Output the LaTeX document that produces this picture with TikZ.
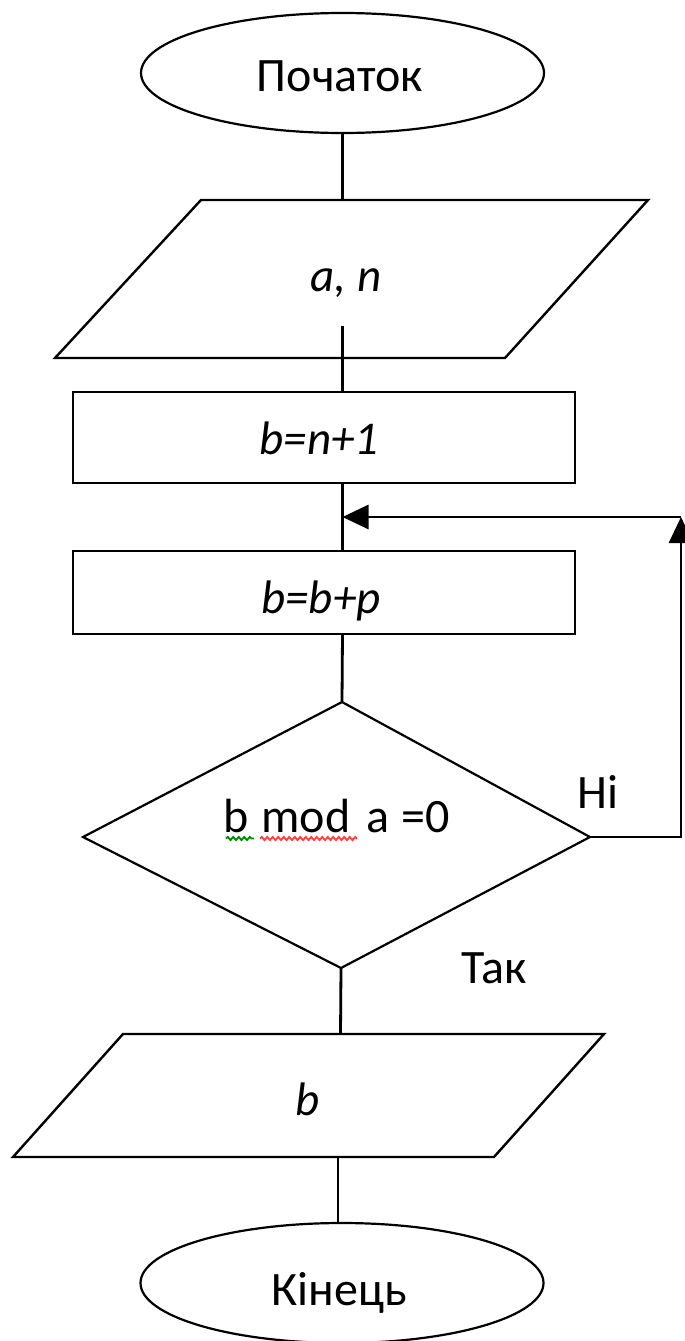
\documentclass[tikz,border=0pt]{standalone}
\usepackage{fontspec}
\setmainfont{Carlito}
\usetikzlibrary{shapes.geometric,arrows.meta,decorations.pathmorphing}
\begin{document}
\begin{tikzpicture}[x=1pt,y=-1pt,
  txt/.style={font=\fontsize{48}{54}\selectfont, inner sep=0pt, anchor=base},
  itxt/.style={txt, font=\fontsize{47}{53}\selectfont\itshape},
  outline/.style={draw=black, line width=2.4pt, line join=miter},
  box/.style={draw=black, line width=2.8pt, inner sep=0pt, outer sep=0pt, minimum width=502pt},
  term/.style={ellipse, draw=black, line width=2.2pt, inner sep=0pt, outer sep=0pt,
               minimum width=403pt, minimum height=120pt},
  flow/.style={draw=black, line width=2.8pt},
  arr/.style={flow, -{Triangle[length=26pt,width=24pt]}},
  spell/.style={decorate, decoration={snake, amplitude=1.6pt, segment length=5.5pt}, line width=1.8pt},
]
\useasboundingbox (0,0) rectangle (685,1341);

% start terminal
\node[term] (start) at (342.5,73) {};
\node[txt] (starttxt) at (340,91) {Початок};

% input a, n
\coordinate (ina) at (201,200);
\coordinate (inb) at (648,200);
\coordinate (inc) at (505,358);
\coordinate (ind) at (55,358);
\draw[outline] (ina) -- (inb) -- (inc) -- (ind) -- cycle;
\node[itxt] (intxt) at (346,291.5) {a, n};
\coordinate (intop) at (342.5,200);
\coordinate (ininner) at (342.5,326);

% process blocks
\node[box, minimum height=91pt] (proc1) at (324,437.5) {};
\node[itxt] (proc1txt) at (319,454) {b=n+1};
\node[box, minimum height=83pt] (proc2) at (324,592.5) {};
\node[itxt] (proc2txt) at (321,613) {b=b+p};

% decision
\coordinate (dt) at (342,702);
\coordinate (dr) at (590,837);
\coordinate (db) at (341,968);
\coordinate (dl) at (83,837);
\draw[outline, line width=2.2pt] (dt) -- (dr) -- (db) -- (dl) -- cycle;
\node[txt, anchor=base west] (condtxt) at (223,832)
  {b\hspace{13pt}mod\hspace{16pt}a\hspace{12pt}=0};
\draw[spell, color=green!55!black] (226,838.5) -- (254,838.5);
\draw[spell, color=red!75] (260,838.5) -- (357,838.5);
\node[txt, anchor=base west] (nolbl) at (577,808) {Ні};
\node[txt, anchor=base west] (yeslbl) at (461,983) {Так};

% output b
\coordinate (outa) at (123,1034);
\coordinate (outb) at (604,1034);
\coordinate (outc) at (494,1157);
\coordinate (outd) at (13,1157);
\draw[outline] (outa) -- (outb) -- (outc) -- (outd) -- cycle;
\node[itxt] (outtxt) at (308,1115) {b};
\coordinate (outtop) at (340.5,1034);
\coordinate (outbot) at (338,1157);

% end terminal
\node[term] (end) at (342,1283) {};
\node[txt] (endtxt) at (339,1305) {Кінець};

% connectors
\draw[flow] (start.south) -- (intop);
\draw[flow] (ininner) -- (start |- proc1.north);
\draw[flow] (start |- proc1.south) -- (start |- proc2.north);
\draw[flow] (start |- proc2.south) -- (dt);
\draw[flow] (db) -- (outtop);
\draw[flow] (outbot) -- (outbot |- end.north);

% loop back on "Ні"
\coordinate (fbc) at (681,837);
\coordinate (fbtop) at (681,517);
\coordinate (join) at (342.5,517);
\draw[arr] (dr) -- (fbc) -- (fbtop);
\draw[arr] (fbtop) -- (join);
\end{tikzpicture}
\end{document}
